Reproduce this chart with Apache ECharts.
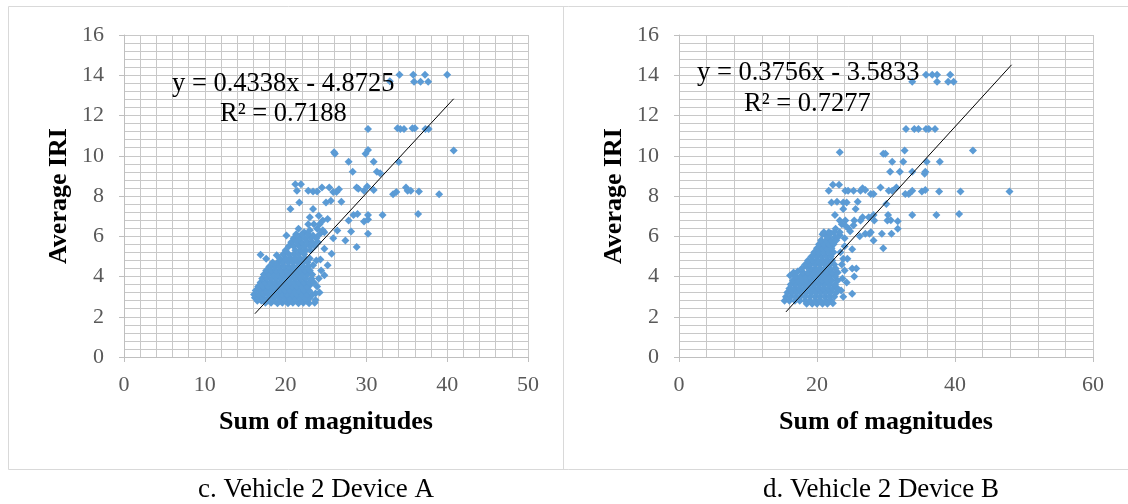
<!DOCTYPE html>
<html>
<head>
<meta charset="utf-8">
<script src="https://cdn.jsdelivr.net/npm/echarts@6/dist/echarts.min.js"></script>
<style>
  html, body { margin: 0; padding: 0; background: #fff; }
  #chart { width: 1128px; height: 504px; }
</style>
</head>
<body>
<div id="chart"></div>
<script>
// c. Vehicle 2 Device A  [sum of magnitudes, average IRI]
const pointsA = [
  [34.1,14.03],[35.8,14.03],[37.25,14.03],[40.0,14.03],
  [32.9,13.7],[35.9,13.68],[36.7,13.68],[37.65,13.68],
  [30.2,11.33],[33.85,11.37],[34.2,11.33],[34.65,11.33],[35.7,11.37],[36.0,11.37],[37.3,11.33],[37.7,11.33],
  [40.8,10.26],[26.1,10.1],[26.0,10.17],[29.9,10.1],[30.2,10.28],
  [27.8,9.7],[30.9,9.7],[34.0,9.69],[28.3,9.2],[31.3,9.2],[31.7,9.13],
  [21.2,8.58],[21.9,8.58],[21.4,8.26],[22.8,8.26],[23.4,8.22],[23.9,8.22],[24.5,8.42],[25.4,8.42],
  [25.9,8.2],[26.3,8.2],[26.6,8.34],[28.8,8.42],[29.0,8.36],[29.7,8.26],[30.1,8.47],[30.9,8.3],
  [33.3,8.09],[33.7,8.2],[34.9,8.42],[35.1,8.26],[35.5,8.26],[36.5,8.22],[39.0,8.09],
  [21.7,7.68],[25.0,7.68],[25.6,7.76],[26.9,7.71],[20.6,7.35],[23.4,7.35],
  [36.4,7.1],[28.4,7.06],[28.9,7.1],[30.2,7.06],[32.0,7.06],
  [23.0,6.94],[24.1,7.02],[24.6,6.78],[25.2,6.86],[27.8,6.78],[29.7,6.73],[30.2,6.83],
  [28.1,6.23],[30.2,6.12],[25.9,5.9],[27.4,5.79],[26.4,6.28],[28.8,5.46],[25.7,5.13],
  [20.1,6.04],[21.6,6.37],[22.3,6.2],[23.4,6.04],[23.9,6.37],[24.8,6.2],
  [16.9,5.08],[17.6,4.88],[18.9,5.05],[20.7,5.7],[21.2,5.3],[24.8,5.38],[25.2,4.56],[24.8,4.06],
  [23.7,3.16],[23.7,2.83],[23.0,3.57],[23.4,4.56],
  [23.9,3.5],[24.1,3.9],[24.4,4.3],[23.8,4.8],[24.2,3.2],[23.6,2.7],
  [17.5,2.7],[18.2,2.7],[19.0,2.67],[19.6,2.7],[20.3,2.67],[20.9,2.7],[21.6,2.67],[22.2,2.7],[22.9,2.67],
  [16.5,2.8],[17.0,2.8],[17.8,2.8],[18.6,2.8],[19.3,2.8],[20.0,2.8],[20.6,2.8],[21.3,2.8],[22.0,2.8],[22.6,2.8],
  [16.2,2.95],[16.6,2.95],[17.2,2.95],[17.9,2.95],[18.5,2.95],[19.2,2.95],[19.9,2.95],[20.5,2.95],[21.1,2.95],[21.8,2.95],[22.4,2.95],[23.0,2.95],
  [16.1,3.1],[16.7,3.1],[17.3,3.1],[17.9,3.1],[18.4,3.1],[19.0,3.1],[19.6,3.1],[20.2,3.1],[20.8,3.1],[21.4,3.1],[22.0,3.1],[22.6,3.1],[23.3,3.1],
  [16.3,3.3],[16.9,3.3],[17.5,3.3],[18.1,3.3],[18.7,3.3],[19.3,3.3],[19.9,3.3],[20.5,3.3],[21.1,3.3],[21.7,3.3],[22.3,3.3],[22.9,3.3],
  [16.6,3.5],[17.2,3.5],[17.8,3.5],[18.4,3.5],[19.0,3.5],[19.6,3.5],[20.2,3.5],[20.8,3.5],[21.4,3.5],[22.0,3.5],[22.6,3.5],
  [16.9,3.7],[17.5,3.7],[18.1,3.7],[18.7,3.7],[19.3,3.7],[19.9,3.7],[20.5,3.7],[21.1,3.7],[21.7,3.7],[22.3,3.7],[22.9,3.7],[23.5,3.7],
  [17.1,3.9],[17.7,3.9],[18.3,3.9],[18.9,3.9],[19.5,3.9],[20.1,3.9],[20.7,3.9],[21.3,3.9],[21.9,3.9],[22.5,3.9],[23.2,3.9],
  [17.3,4.1],[17.9,4.1],[18.5,4.1],[19.1,4.1],[19.7,4.1],[20.3,4.1],[20.9,4.1],[21.5,4.1],[22.1,4.1],[22.7,4.1],[23.3,4.1],
  [17.6,4.3],[18.2,4.3],[18.8,4.3],[19.4,4.3],[20.0,4.3],[20.6,4.3],[21.2,4.3],[21.8,4.3],[22.4,4.3],[23.0,4.3],
  [18.0,4.5],[18.6,4.5],[19.2,4.5],[19.8,4.5],[20.4,4.5],[21.0,4.5],[21.6,4.5],[22.2,4.5],[22.8,4.5],
  [18.4,4.7],[19.0,4.7],[19.6,4.7],[20.3,4.7],[20.9,4.7],[21.5,4.7],[22.1,4.7],[22.7,4.7],
  [19.3,4.9],[20.0,4.9],[20.6,4.9],[21.2,4.9],[21.8,4.9],[22.4,4.9],[23.0,4.9],[24.3,4.85],
  [19.7,5.1],[20.4,5.1],[21.0,5.1],[21.6,5.1],[22.3,5.1],
  [20.0,5.3],[21.9,5.3],[22.5,5.3],[23.1,5.3],
  [20.4,5.5],[21.0,5.5],[21.7,5.5],[22.3,5.5],[23.0,5.5],[23.6,5.5],
  [21.4,5.7],[22.0,5.7],[22.7,5.7],[23.3,5.7],[24.0,5.7],
  [21.0,5.9],[21.7,5.9],[22.4,5.9],[23.1,5.9],[23.8,5.9],
  [21.3,6.1],[22.0,6.1],[22.8,6.1],[24.2,6.1],
  [23.0,6.3],[24.6,6.3],[22.8,6.6],[23.5,6.6],[24.2,6.6]
];

// d. Vehicle 2 Device B
const pointsB = [
  [35.8,14.03],[36.7,14.03],[37.4,14.03],[39.3,14.03],
  [33.8,13.68],[37.4,13.68],[39.0,13.68],[39.8,13.68],
  [32.9,11.33],[34.1,11.33],[34.7,11.33],[35.8,11.33],[36.2,11.33],[37.1,11.33],
  [32.7,10.26],[42.6,10.26],[23.3,10.17],[29.6,10.1],[29.9,10.1],
  [30.9,9.7],[32.5,9.7],[35.9,9.7],[37.8,9.7],
  [30.6,9.2],[32.0,9.2],[33.8,9.2],[35.7,9.2],[35.6,9.1],
  [29.2,8.42],[31.5,8.42],[22.3,8.56],[23.2,8.56],
  [21.7,8.26],[24.1,8.26],[24.5,8.26],[25.3,8.26],[26.3,8.26],[26.6,8.38],[27.0,8.3],[30.4,8.26],[30.9,8.26],
  [33.8,8.26],[35.2,8.22],[35.7,8.3],[37.7,8.22],[40.8,8.22],[47.9,8.22],
  [27.8,8.1],[28.2,8.1],[32.8,8.1],[33.3,8.1],
  [22.1,7.68],[22.9,7.72],[23.8,7.68],[24.3,7.68],[25.9,7.72],[30.05,7.6],
  [23.8,7.35],[25.6,7.35],
  [22.6,7.06],[28.2,7.06],[30.3,7.06],[33.8,7.06],[37.3,7.06],[40.6,7.1],
  [23.3,6.78],[24.1,6.78],[25.4,6.78],[26.3,6.78],[28.3,6.78],[30.2,6.78],[30.7,6.8],[31.7,6.75],
  [26.6,6.94],[27.5,6.94],
  [31.7,6.37],[22.7,6.37],[24.6,6.37],
  [29.4,6.12],[30.8,6.12],[27.0,6.12],[27.6,6.12],[26.2,6.0],[27.8,6.2],
  [28.2,5.79],[29.6,5.4],[25.1,5.35],
  [23.8,4.88],[24.4,4.88],[25.1,4.4],[25.7,4.4],[25.4,4.0],[24.3,3.7],[25.1,3.14],[22.3,2.67],
  [20.8,6.1],[21.4,6.0],[22.0,6.15],[22.6,5.95],[23.3,6.05],[24.0,5.9],[24.8,6.25],[23.6,6.6],[24.2,6.5],[25.3,6.55],
  [23.5,3.3],[23.7,3.9],[24.0,4.3],[23.6,4.6],[23.4,5.2],[24.0,5.5],[23.8,3.0],
  [18.5,2.65],[19.3,2.65],[20.0,2.65],[20.8,2.65],[21.5,2.65],
  [15.3,2.8],[16.0,2.8],[16.8,2.8],[17.5,2.8],[18.3,2.8],[19.0,2.8],[19.8,2.8],[20.5,2.8],[21.3,2.8],[22.0,2.8],
  [15.5,3.0],[16.2,3.0],[16.9,3.0],[17.6,3.0],[18.3,3.0],[19.0,3.0],[19.7,3.0],[20.4,3.0],[21.1,3.0],[21.8,3.0],[22.5,3.0],
  [15.7,3.2],[16.4,3.2],[17.1,3.2],[17.8,3.2],[18.5,3.2],[19.2,3.2],[19.9,3.2],[20.6,3.2],[21.3,3.2],[22.0,3.2],[22.8,3.2],
  [16.0,3.4],[16.7,3.4],[17.4,3.4],[18.1,3.4],[18.8,3.4],[19.5,3.4],[20.2,3.4],[20.9,3.4],[21.6,3.4],[22.3,3.4],[23.0,3.4],
  [16.2,3.6],[16.9,3.6],[17.6,3.6],[18.3,3.6],[19.0,3.6],[19.7,3.6],[20.4,3.6],[21.1,3.6],[21.8,3.6],[22.6,3.6],
  [16.5,3.8],[17.2,3.8],[17.9,3.8],[18.6,3.8],[19.3,3.8],[20.0,3.8],[20.7,3.8],[21.4,3.8],[22.1,3.8],[23.0,3.8],
  [16.1,4.05],[16.9,4.0],[17.6,4.0],[18.3,4.0],[19.0,4.0],[19.7,4.0],[20.4,4.0],[21.1,4.0],[21.8,4.0],[22.6,4.0],
  [16.6,4.2],[17.2,4.25],[18.0,4.2],[18.7,4.2],[19.4,4.2],[20.1,4.2],[20.8,4.2],[21.5,4.2],[22.2,4.2],[23.0,4.2],
  [17.8,4.4],[18.5,4.5],[19.1,4.4],[19.8,4.4],[20.5,4.4],[21.2,4.4],[21.9,4.4],[22.7,4.4],
  [18.3,4.6],[19.0,4.6],[19.7,4.6],[20.4,4.6],[21.1,4.6],[21.8,4.6],[22.5,4.6],
  [18.7,4.8],[19.4,4.8],[20.1,4.8],[20.8,4.8],[21.5,4.8],[22.2,4.8],
  [19.2,5.0],[19.9,5.0],[20.6,5.0],[21.3,5.0],[22.0,5.0],
  [19.6,5.2],[20.3,5.2],[21.0,5.2],[21.7,5.2],[22.4,5.2],
  [20.0,5.4],[20.7,5.4],[21.4,5.4],[22.1,5.4],
  [20.3,5.6],[21.0,5.6],[21.7,5.6],[22.4,5.6],
  [20.6,5.8],[21.3,5.8],[22.0,5.8],[22.8,5.8],
  [21.6,6.0],[23.1,6.0],[21.0,6.2],[21.7,6.2],[22.5,6.2],[23.3,6.2]
];

// linear trendline end points
const trendA = [[16.2, 2.15], [40.8, 12.83]];
const trendB = [[15.5, 2.24], [48.2, 14.52]];

const equationA = ['y = 0.4338x - 4.8725', 'R² = 0.7188'];
const equationB = ['y = 0.3756x - 3.5833', 'R² = 0.7277'];
const captions = ['c. Vehicle 2 Device A', 'd. Vehicle 2 Device B'];

const serif = '"Liberation Serif", "Times New Roman", serif';
const gridColor = '#C8C8C8';
const axisColor = '#BFBFBF';

function xAxis(gridIndex, max, interval) {
  return {
    type: 'value', gridIndex: gridIndex, min: 0, max: max, interval: interval,
    name: 'Sum of magnitudes', nameLocation: 'middle', nameGap: 52,
    nameTextStyle: { fontFamily: serif, fontWeight: 'bold', fontSize: 26, color: '#000' },
    axisLine: { show: true, lineStyle: { color: axisColor } },
    axisTick: { show: true, length: 5, lineStyle: { color: axisColor } },
    axisLabel: { fontFamily: serif, fontSize: 22, color: '#595959', margin: 17 },
    splitLine: { show: true, lineStyle: { color: gridColor } },
    minorTick: { show: false, splitNumber: 5 },
    minorSplitLine: { show: true, lineStyle: { color: gridColor } }
  };
}

function yAxis(gridIndex) {
  return {
    type: 'value', gridIndex: gridIndex, min: 0, max: 16, interval: 2,
    name: 'Average IRI', nameLocation: 'middle', nameGap: 52, nameRotate: 90,
    nameTextStyle: { fontFamily: serif, fontWeight: 'bold', fontSize: 26, color: '#000' },
    axisLine: { show: true, lineStyle: { color: axisColor } },
    axisTick: { show: true, length: 5, lineStyle: { color: axisColor } },
    axisLabel: { fontFamily: serif, fontSize: 22, color: '#595959', margin: 20 },
    splitLine: { show: true, lineStyle: { color: gridColor } },
    minorTick: { show: false, splitNumber: 5 },
    minorSplitLine: { show: true, lineStyle: { color: gridColor } }
  };
}

function scatter(idx, data) {
  return {
    type: 'scatter', xAxisIndex: idx, yAxisIndex: idx, data: data,
    symbol: 'diamond', symbolSize: 8,
    itemStyle: { color: '#5B9BD5', opacity: 1 }
  };
}

function trend(idx, data) {
  return {
    type: 'line', xAxisIndex: idx, yAxisIndex: idx, data: data,
    symbol: 'none', z: 5,
    lineStyle: { color: '#000', width: 1 }
  };
}

function text(x, y, str, size, align) {
  return {
    type: 'text', x: x, y: y, silent: true, z: 10,
    style: { text: str, fontFamily: serif, fontSize: size, fill: '#000', align: align || 'left', verticalAlign: 'middle' }
  };
}

const chart = echarts.init(document.getElementById('chart'));
chart.setOption({
  animation: false,
  backgroundColor: '#fff',
  grid: [
    { left: 124, top: 35, width: 404, height: 322 },
    { left: 679, top: 35, width: 414, height: 322 }
  ],
  xAxis: [xAxis(0, 50, 10), xAxis(1, 60, 20)],
  yAxis: [yAxis(0), yAxis(1)],
  series: [scatter(0, pointsA), trend(0, trendA), scatter(1, pointsB), trend(1, trendB)],
  graphic: [
    { type: 'rect', silent: true, shape: { x: 8.5, y: 6.5, width: 1140, height: 463 },
      style: { fill: 'none', stroke: '#D9D9D9', lineWidth: 1 } },
    { type: 'line', silent: true, shape: { x1: 563.5, y1: 6, x2: 563.5, y2: 470 },
      style: { stroke: '#D9D9D9', lineWidth: 1 } },
    text(172, 84, equationA[0], 26.5),
    text(220, 114, equationA[1], 26.5),
    text(697, 73, equationB[0], 26.5),
    text(744, 104, equationB[1], 26.5),
    text(316, 490, captions[0], 27, 'center'),
    text(881, 490, captions[1], 27, 'center')
  ]
});
</script>
</body>
</html>
